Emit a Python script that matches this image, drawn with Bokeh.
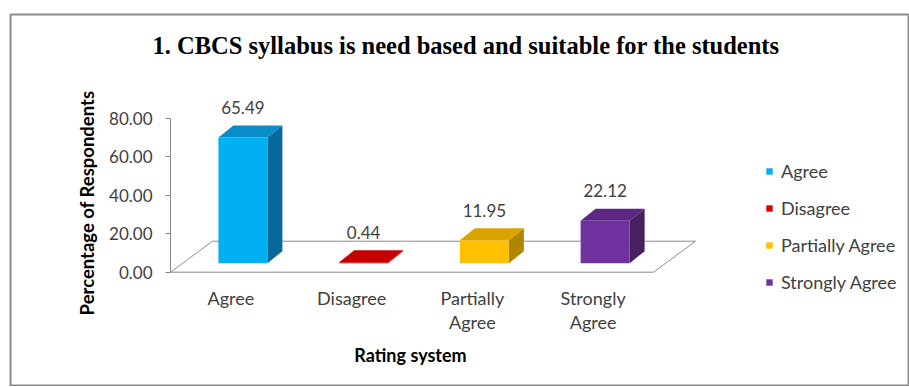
import math
from bokeh.plotting import figure
from bokeh.models import Range1d, FixedTicker, NumeralTickFormatter, Label
from bokeh.core.properties import value
from bokeh.embed import file_html
from bokeh.resources import INLINE

# ---------------- data ----------------
title_text = "1. CBCS syllabus is need based and suitable for the students"
categories = ["Agree", "Disagree", "Partially Agree", "Strongly Agree"]
tick_labels = ["Agree", "Disagree", "Partially\nAgree", "Strongly\nAgree"]
values = [65.49, 0.44, 11.95, 22.12]
y_ticks = [0, 20, 40, 60, 80]
y_title = "Percentage of Respondents"
x_title = "Rating system"

front_colors = ["#00B0F0", "#E00000", "#FFC000", "#7030A0"]
top_colors = ["#0A8CC6", "#C40000", "#D9A300", "#5C2784"]
side_colors = ["#07699A", "#9E0000", "#B08500", "#47205F"]

# ---------------- layout constants (pixels) ----------------
W, H = 909, 386
FL, FT, FB, FR = 10, 14, 1, 0          # frame borders
frame_w = W - FL - FR
frame_h = H - FT - FB
X0, Y0 = 170, 271.7                    # page position of the data origin
PX_X = 120.75                          # px per category
PX_Y = 1.921                           # px per percent point

FD_X, FD_Y = 42 / PX_X, 31 / PX_Y      # floor depth
BX, BY = 12 / PX_X, 9 / PX_Y           # bar front face offset into the floor
BW = 49 / PX_X                         # bar width
DX, DY = 15 / PX_X, 12 / PX_Y          # bar depth
LBL = 20.3                             # data-label offset (percent units)


def dx(px):
    return (px - X0) / PX_X


def dy(py):
    return (Y0 - py) / PX_Y


x_start = -(X0 - FL) / PX_X
y_top = (Y0 - FT) / PX_Y
y_bot = -(H - FB - Y0) / PX_Y

p = figure(width=W, height=H, output_backend="svg", toolbar_location=None,
           x_range=Range1d(x_start, x_start + frame_w / PX_X),
           y_range=Range1d(y_bot, y_top),
           min_border_left=FL, min_border_right=FR,
           min_border_top=FT, min_border_bottom=FB,
           outline_line_color="#8C8C8C", outline_line_width=2,
           background_fill_color="white", border_fill_color="white")
p.grid.visible = False

n = len(categories)
# floor
p.patch([0, n, n + FD_X, FD_X], [0, 0, FD_Y, FD_Y],
        fill_color="white", line_color="#8C8C8C", line_width=1)

centers = [i + 0.5 + BX for i in range(n)]
lefts = [c - BW / 2 for c in centers]
rights = [c + BW / 2 for c in centers]
tops = [BY + v for v in values]

side_xs = [[r, r + DX, r + DX, r] for r in rights]
side_ys = [[BY, BY + DY, t + DY, t] for t in tops]
p.patches(side_xs, side_ys, fill_color=side_colors, line_color=None)

top_xs = [[l, r, r + DX, l + DX] for l, r in zip(lefts, rights)]
top_ys = [[t, t, t + DY, t + DY] for t in tops]
p.patches(top_xs, top_ys, fill_color=top_colors, line_color=None)

for i in range(n):
    p.quad(left=[lefts[i]], right=[rights[i]], bottom=[BY], top=[tops[i]],
           fill_color=front_colors[i], line_color=None,
           legend_label=categories[i])

p.text(x=centers, y=[v + LBL for v in values],
       text=["%.2f" % v for v in values],
       text_font=value("Lato"), text_font_size="17px", text_color="#404040",
       text_align="center", text_baseline="middle")

# y axis (drawn at x = 0)
ya = p.yaxis[0]
ya.fixed_location = 0
ya.ticker = FixedTicker(ticks=y_ticks)
ya.formatter = NumeralTickFormatter(format="0.00")
ya.bounds = (0, 80)
ya.major_tick_out = 5
ya.major_tick_in = 0
ya.minor_tick_out = 0
ya.minor_tick_in = 0
ya.axis_line_color = "#868686"
ya.major_tick_line_color = "#868686"
ya.major_label_text_font = "Lato"
ya.major_label_text_font_size = "17px"
ya.major_label_text_color = "#404040"
ya.major_label_standoff = 13

# x axis (drawn at y = 0)
xa = p.xaxis[0]
xa.fixed_location = 0
xa.ticker = FixedTicker(ticks=[i + 0.5 for i in range(n)])
xa.major_label_overrides = {i + 0.5: tick_labels[i] for i in range(n)}
xa.axis_line_color = None
xa.major_tick_line_color = None
xa.minor_tick_line_color = None
xa.major_tick_out = 0
xa.major_tick_in = 0
xa.major_label_text_font = "Lato"
xa.major_label_text_font_size = "18px"
xa.major_label_text_color = "#404040"
xa.major_label_text_line_height = 1.1
xa.major_label_standoff = 15

# titles
p.add_layout(Label(x=dx(465.5), y=dy(45), text=title_text,
                   text_font="Liberation Serif", text_font_size="24.5px",
                   text_font_style="bold", text_color="black",
                   text_align="center", text_baseline="middle"))
p.add_layout(Label(x=dx(86.7), y=dy(202.5), text=y_title, angle=math.pi / 2,
                   text_font="Lato", text_font_size="18.5px",
                   text_font_style="bold", text_color="black",
                   text_align="center", text_baseline="middle"))
p.add_layout(Label(x=dx(410), y=dy(354), text=x_title,
                   text_font="Lato", text_font_size="18px",
                   text_font_style="bold", text_color="black",
                   text_align="center", text_baseline="middle"))

# legend
leg = p.legend[0]
leg.location = (755, 92)
leg.padding = 0
leg.margin = 0
leg.spacing = 15
leg.label_height = 22
leg.glyph_width = 8
leg.glyph_height = 8
leg.label_standoff = 8
leg.border_line_color = None
leg.background_fill_alpha = 0
leg.label_text_font = "Lato"
leg.label_text_font_size = "18px"
leg.label_text_color = "#404040"

open("out.html", "w").write(file_html(p, INLINE))
